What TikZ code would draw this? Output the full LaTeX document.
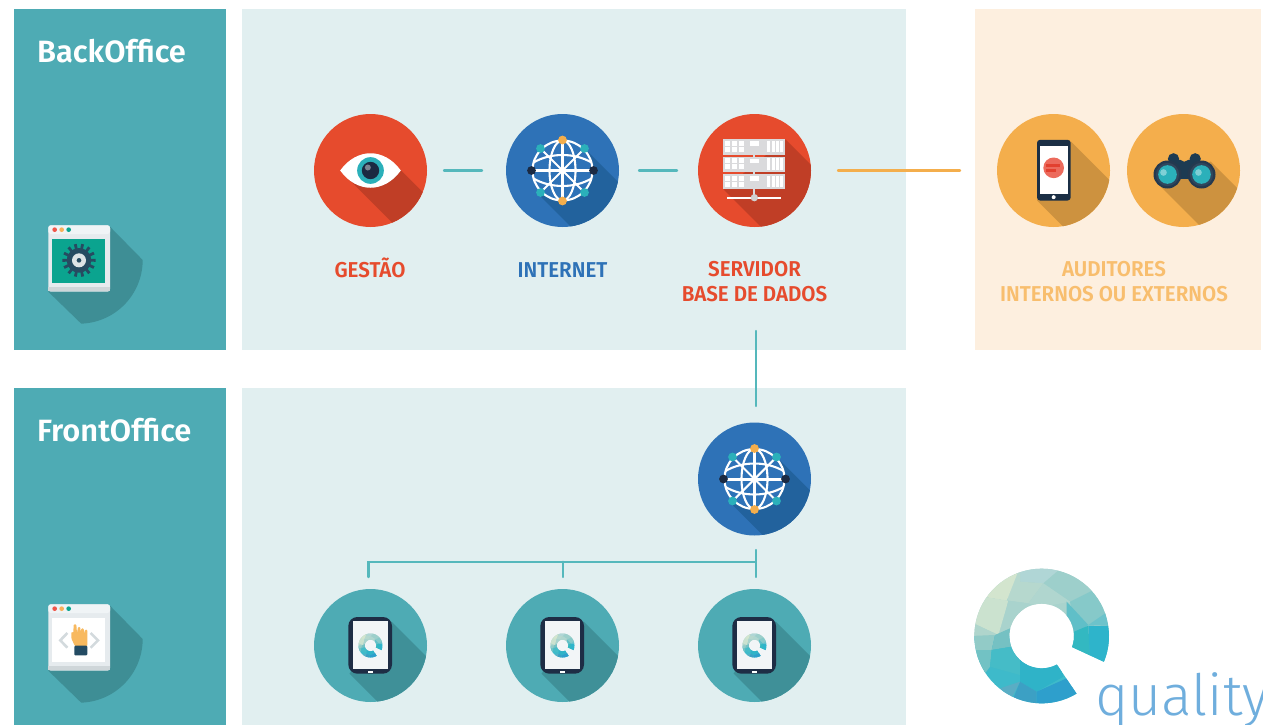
\documentclass[tikz,border=0pt]{standalone}
\usepackage{fontspec}
\setmainfont{Fira Sans}
\newfontfamily\firalight{Fira Sans Light}
\newfontfamily\capfont[FakeStretch=0.955]{Fira Sans SemiBold}
\newfontfamily\titlefont{Fira Sans SemiBold}
\usetikzlibrary{calc}
\newcommand\dc[1]{\definecolor{HTML#1}{HTML}{#1}}
\dc{B0D6D6}\dc{B6D8CE}\dc{D3E5CE}\dc{CBE2CF}\dc{AFD5CC}\dc{A9D3CD}\dc{9DCFCB}\dc{B0D6CF}\dc{86C9C9}\dc{60BFC8}\dc{6CC3CB}\dc{33B8C1}\dc{2EB4CB}\dc{92CBC7}\dc{75C1C3}\dc{72C2C4}\dc{45BCC7}\dc{3EBACA}\dc{2FB3C8}\dc{3CA0C4}\dc{2E9FCC}\dc{5AADC4}
\dc{1E2D45}\dc{F2F5F7}\dc{E6EBEE}\dc{F0F4F6}\dc{CFD6D9}\dc{F0564A}\dc{F8B15A}\dc{0BA48F}\dc{264B61}\dc{DDE3E5}\dc{D3DADD}\dc{F8B95F}\dc{234B63}\dc{7B8390}\dc{DADADC}\dc{D0D0D0}\dc{1B2F45}\dc{EC6A5C}\dc{E2402F}\dc{1D3B52}\dc{24394F}\dc{30465C}\dc{7FD0D6}\dc{F8BE6E}
\definecolor{tealbar}{HTML}{4EABB4}
\definecolor{paneltint}{HTML}{E1EFF0}
\definecolor{auditbg}{HTML}{FDEFDF}
\definecolor{redc}{HTML}{E64B2D}
\definecolor{redsh}{HTML}{C03E26}
\definecolor{bluec}{HTML}{2E72B7}
\definecolor{bluesh}{HTML}{22629D}
\definecolor{orangec}{HTML}{F4AE4C}
\definecolor{orangesh}{HTML}{CD923F}
\definecolor{tealsh}{HTML}{3F9098}
\definecolor{barsh}{HTML}{3E8E95}
\definecolor{linkteal}{HTML}{55B8BC}
\definecolor{linkor}{HTML}{F4AE4C}
\definecolor{navy}{HTML}{1B2A42}
\definecolor{irisc}{HTML}{2BB0BA}
\definecolor{qualc}{HTML}{6FAEDD}
\tikzset{
  panelbox/.style={fill=#1,draw=none},
  badgedisc/.style={circle,fill=#1,draw=none,minimum size=113pt,inner sep=0pt},
  tealink/.style={draw=linkteal,line width=2.4pt,line cap=round},
  orlink/.style={draw=linkor,line width=2.4pt,line cap=round},
  title/.style={text=white,font=\fontsize{30.8}{30.8}\selectfont\titlefont,anchor=base west,inner sep=0pt},
  caption/.style={font=\fontsize{21.5}{25}\selectfont\capfont,align=center,anchor=base,inner sep=0pt},
  gl/.style={draw=white,line width=2.1pt}
}
% name, cx, cy, colour, shadow colour, x1,y1,x2,y2 (local offsets)
\newcommand\badge[9]{%
  \node[badgedisc=#4] (#1) at (#2,#3) {};
  \begin{scope}[shift={(#2,#3)}]
    \clip (0,0) circle (56.5);
    \fill[#5] (#6,#7) -- ++(110,110) -- ($(#8,#9)+(110,110)$) -- (#8,#9) -- cycle;
  \end{scope}}
\newcommand\globeicon[2]{%
  \begin{scope}[shift={(#1,#2)}]
    \fill[bluec] (0,0) circle (30);
    \draw[gl] (0,0) circle (30);
    \draw[gl] (0,0) ellipse (13 and 30);
    \draw[gl] (0,-30) -- (0,30);
    \draw[gl,line width=3pt] (-30,0) -- (30,0);
    \draw[gl] (-29,-8) .. controls (-12,-18) and (12,-18) .. (29,-8);
    \draw[gl] (-29,8) .. controls (-12,18) and (12,18) .. (29,8);
    \draw[gl] (-22,-22) -- (22,22);
    \draw[gl] (22,-22) -- (-22,22);
    \fill[orangec] (0,-30.5) circle (4.4);
    \fill[orangec] (0,30.5) circle (4.4);
    \fill[navy] (-31,0) circle (4.4);
    \fill[navy] (31,0) circle (4.4);
    \foreach \sx/\sy in {-1/-1,1/-1,-1/1,1/1}
      \fill[irisc] (22*\sx,22*\sy) circle (4.4);
  \end{scope}}
% low-poly logo, drawn in a coordinate frame centred on (245,228), R=202, r=96
\newcommand\qlogo{%
  \begin{scope}
    \clip plot[domain=58.8:382.5,samples=70] ({245+202*cos(\x)},{228+202*sin(\x)})
       -- plot[domain=380:62,samples=50] ({245+97*cos(\x)},{228+97*sin(\x)}) -- cycle;
    \fill[HTMLA9D3CD] (30,15) rectangle (460,228);
    \fill[HTML3EBACA] (30,228) rectangle (460,440);
    \fill[HTMLB0D6D6] (180,10)--(320,10)--(250,70)--(180,65)--cycle;
    \fill[HTMLB6D8CE] (140,75)--(180,20)--(180,65)--(250,70)--(205,130)--(145,122)--cycle;
    \fill[HTMLD3E5CE] (145,20)--(180,20)--(140,122)--(80,112)--(50,112)--cycle;
    \fill[HTMLCBE2CF] (20,112)--(80,112)--(145,122)--(115,225)--(30,185)--cycle;
    \fill[HTMLAFD5CC] (30,185)--(115,225)--(105,225)--(30,230)--cycle;
    \fill[HTMLA9D3CD] (145,122)--(205,130)--(150,200)--(125,215)--cycle;
    \fill[HTML9DCFCB] (250,70)--(320,10)--(400,90)--(330,125)--cycle;
    \fill[HTMLB0D6CF] (205,130)--(250,70)--(330,125)--(250,140)--cycle;
    \fill[HTML86C9C9] (330,125)--(400,90)--(460,160)--(385,195)--(345,215)--cycle;
    \fill[HTML60BFC8] (320,125)--(385,195)--(345,225)--(320,170)--cycle;
    \fill[HTML6CC3CB] (385,195)--(450,150)--(460,198)--cycle;
    \fill[HTML33B8C1] (335,218)--(385,197)--(390,300)--(330,280)--cycle;
    \fill[HTML2EB4CB] (385,197)--(460,198)--(460,340)--(390,300)--cycle;
    \fill[HTML92CBC7] (30,228)--(105,225)--(95,270)--(30,270)--cycle;
    \fill[HTML75C1C3] (105,225)--(150,205)--(155,260)--(95,270)--cycle;
    \fill[HTML72C2C4] (30,270)--(95,270)--(90,320)--(60,360)--cycle;
    \fill[HTML45BCC7] (95,270)--(155,260)--(185,300)--(180,345)--(90,320)--cycle;
    \fill[HTML2FB3C8] (180,300)--(300,310)--(310,350)--(230,395)--(180,365)--cycle;
    \fill[HTML3CA0C4] (180,365)--(150,440)--(230,440)--(230,395)--cycle;
    \fill[HTML2E9FCC] (230,395)--(320,355)--(360,410)--(230,440)--cycle;
    \fill[HTML5AADC4] (155,415)--(120,385)--(180,365)--cycle;
  \end{scope}}
\newcommand\tableticon[2]{%
  \begin{scope}[shift={(#1,#2)},scale=1/3,shift={(-193.5,-196.5)}]
    \fill[HTML1E2D45,rounded corners=9pt] (127,111) rectangle (258,281);
    \fill[HTMLF2F5F7] (140,124) rectangle (247,267);
    \fill[white] (186,273) rectangle (202,279);
  \end{scope}
  \begin{scope}[shift={(#1,#2)},scale=0.0594,shift={(-245,-228)}]
    \qlogo
  \end{scope}}
% window icon: origin of the local frame
\newcommand\windowbase[2]{%
  \fill[barsh] (#1+80,#2+16.7) -- plot[domain=0:88,samples=30] ({#1+49+63.7*cos(\x)},{#2+50+63.7*sin(\x)}) -- (#1+18.3,#2+81.7) -- cycle;
  \begin{scope}[shift={(#1,#2)},scale=1/3]
    \fill[HTMLE6EBEE,rounded corners=2.5pt] (55,46) rectangle (240,245);
    \fill[HTMLF0F4F6,rounded corners=2.5pt] (55,46) rectangle (240,72);
    \fill[HTMLCFD6D9] (55,232) rectangle (240,243);
    \fill[HTMLF0564A] (74,59) circle (7);
    \fill[HTMLF8B15A] (95,59) circle (7);
    \fill[HTML0BA48F] (116,59) circle (7);
  \end{scope}}
\begin{document}
\begin{tikzpicture}[x=1pt,y=-1pt]
\useasboundingbox (0,0) rectangle (1263,725);
\fill[white] (0,0) rectangle (1263,725);
% panels
\path[panelbox=tealbar] (14,9) rectangle (226,350);
\path[panelbox=paneltint] (242,9) rectangle (906,350);
\path[panelbox=auditbg] (975,9) rectangle (1261,350);
\path[panelbox=tealbar] (14,388) rectangle (226,725);
\path[panelbox=paneltint] (242,388) rectangle (906,725);
% titles
\node[title] (backt) at (37,62.5) {BackOffice};
\node[title] (frontt) at (37,441.5) {FrontOffice};
% window icons
\windowbase{30}{210}
\begin{scope}[shift={(30,210)},scale=1/3]
  \fill[HTML0BA48F] (66,87) rectangle (225,218);
  \begin{scope}[shift={(147,151)}]
    \fill[HTML264B61] (0,0) circle (37);
    \foreach \a in {0,25.7,...,340}
      \fill[HTML264B61] ({32*cos(\a-7)},{32*sin(\a-7)}) -- ({50*cos(\a-5)},{50*sin(\a-5)}) -- ({50*cos(\a+5)},{50*sin(\a+5)}) -- ({32*cos(\a+7)},{32*sin(\a+7)}) -- cycle;
    \fill[HTMLDDE3E5] (0,0) circle (21);
    \fill[HTML264B61] (0,0) circle (7);
  \end{scope}
\end{scope}
\windowbase{30}{589}
\begin{scope}[shift={(30,589)},scale=1/3]
  \fill[white] (66,87) rectangle (225,219);
  \draw[HTMLD3DADD,line width=2.6pt] (112,132) -- (91,154) -- (112,176);
  \draw[HTMLD3DADD,line width=2.6pt] (182,132) -- (204,154) -- (182,176);
  \fill[HTMLF8B95F,rounded corners=1pt] (131,106) -- (139,106) -- (141,132) -- (144,114) -- (151,114) -- (152,132) -- (154,118) -- (161,118) -- (162,134) -- (165,122) -- (172,122) -- (172,172) -- (135,172) -- (124,148) -- (124,128) -- (130,132) -- cycle;
  \fill[HTML234B63,rounded corners=1pt] (133,170) rectangle (172,199);
\end{scope}
% top row
\badge{eye}{370.5}{170.5}{redc}{redsh}{30.6}{0}{-20}{10.5}
\begin{scope}[shift={(370.5,170.5)},scale=1/3,shift={(-211,-212)}]
  \fill[white] (120,212) .. controls (170,143) and (252,143) .. (302,212)
     .. controls (252,281) and (170,281) .. (120,212) -- cycle;
  \fill[irisc] (211,212) circle (40);
  \fill[navy] (211,212) circle (26);
  \fill[HTML7B8390] (203,203) circle (9);
\end{scope}
\badge{netone}{562.5}{170.5}{bluec}{bluesh}{22}{-22}{-22}{26}
\globeicon{562.5}{170.5}
\badge{server}{754.5}{170.5}{redc}{redsh}{31}{-31}{-31}{19}
\begin{scope}[shift={(754.5,170.5)},scale=1/3,shift={(-223.5,-211.5)}]
  \foreach \dy in {0,52,104}{
    \begin{scope}[shift={(0,\dy)}]
      \fill[HTMLDADADC] (130,118) rectangle (316,164);
      \foreach \cx in {135,156,178} \foreach \cy in {123,141}
        \fill[white] (\cx,\cy) rectangle (\cx+15,\cy+15);
      \fill[white] (210,124) rectangle (238,138);
      \foreach \cx in {262,276,289,301}
        \fill[white] (\cx,123) rectangle (\cx+9,157);
    \end{scope}}
  \fill[HTMLDADADC] (220,164) rectangle (226,170);
  \fill[HTMLDADADC] (220,216) rectangle (226,222);
  \fill[HTMLDADADC] (220,268) rectangle (226,285);
  \fill[white] (142,291) rectangle (303,297);
  \fill[HTMLD0D0D0] (223,293) circle (11);
\end{scope}
\badge{phone}{1053.5}{170.5}{orangec}{orangesh}{17.3}{-29}{-16.5}{30}
\begin{scope}[shift={(1053.5,170.5)},scale=1/3,shift={(-219.5,-212)}]
  \fill[HTML1B2F45,rounded corners=3pt] (170,120) rectangle (271,302);
  \fill[white] (178,138) rectangle (263,282);
  \fill[HTMLEC6A5C] (220,204) circle (31);
  \fill[HTMLE2402F] (198,192) rectangle (238,201);
  \fill[HTMLE2402F] (198,207) rectangle (226,216);
  \fill[white] (220,292) circle (6);
\end{scope}
\badge{binoc}{1183.5}{170.5}{orangec}{orangesh}{27}{-9}{-23}{16}
\begin{scope}[shift={(1183.5,170.5)},scale=1/3,shift={(-610,-212)}]
  \fill[HTML1D3B52] (580,177) circle (17);
  \fill[HTML1D3B52] (645,177) circle (17);
  \fill[HTML1D3B52] (555,185) -- (600,180) -- (612,186) -- (625,180) -- (670,185) -- (690,215) -- (535,215) -- cycle;
  \fill[HTML1D3B52] (598,205) rectangle (628,237);
  \foreach \lx in {562,664}{
    \fill[HTML24394F] (\lx,224) circle (42);
    \fill[HTML30465C] (\lx,224) circle (35);
    \fill[irisc] (\lx,224) circle (28);
  }
  \fill[HTML7FD0D6] (550,218) circle (10);
  \fill[HTML7FD0D6] (655,218) circle (10);
\end{scope}
% second globe
\badge{nettwo}{754.5}{479}{bluec}{bluesh}{22}{-22}{-22}{26}
\globeicon{754.5}{479}
% tablets
\badge{tabone}{370.5}{645.5}{tealbar}{tealsh}{21}{-24}{-21}{28}
\tableticon{370.5}{645.5}
\badge{tabtwo}{562.5}{645.5}{tealbar}{tealsh}{21}{-24}{-21}{28}
\tableticon{562.5}{645.5}
\badge{tabthree}{754.5}{645.5}{tealbar}{tealsh}{21}{-24}{-21}{28}
\tableticon{754.5}{645.5}
% captions
\node[caption,text=redc] (capa) at (370,277.5) {GESTÃO};
\node[caption,text=bluec] (capb) at (562.5,277.5) {INTERNET};
\node[caption,text=redc] (capc) at (754.5,301.7) {SERVIDOR\\BASE DE DADOS};
\node[caption,text=HTMLF8BE6E] (capd) at (1114,301.7) {AUDITORES\\INTERNOS OU EXTERNOS};
% connectors
\coordinate (la) at (444,170.5); \coordinate (lb) at (482,170.5);
\coordinate (lc) at (639,170.5); \coordinate (ld) at (677,170.5);
\coordinate (le) at (838,170.5); \coordinate (lf) at (960,170.5);
\coordinate (lg) at (755.7,331); \coordinate (lh) at (755.7,406);
\coordinate (bl) at (368.5,577); \coordinate (bm) at (563,577); \coordinate (br) at (755.7,577);
\coordinate (tl) at (368.5,561.7); \coordinate (tm) at (563,561.7); \coordinate (tr) at (755.7,561.7);
\coordinate (ni) at (755.7,550);
\draw[tealink] (la) -- (lb);
\draw[tealink] (lc) -- (ld);
\draw[orlink] (le) -- (lf);
\draw[tealink] (lg) -- (lh);
\draw[tealink] (ni) -- (br);
\draw[tealink] (bl) -- (tl) -- (tr);
\draw[tealink] (tm) -- (bm);
% logo
\begin{scope}[shift={(960,560)},scale=1/3]
  \qlogo
\end{scope}
\begin{scope}
  \clip (960,560) rectangle (1263,725);
  \node[anchor=base west,inner sep=0pt,text=qualc,font=\fontsize{57}{57}\selectfont\firalight] (qual) at (1095,715) {quality};
\end{scope}
\end{tikzpicture}
\end{document}
